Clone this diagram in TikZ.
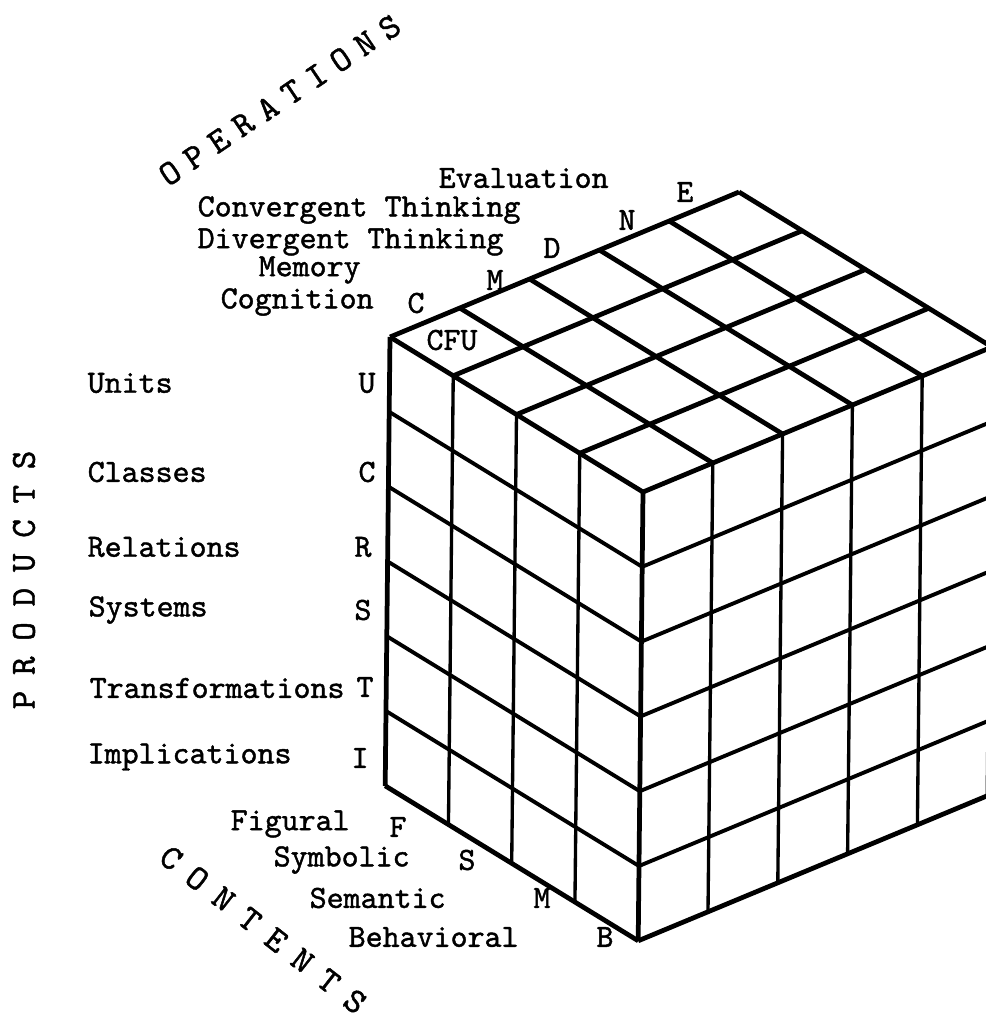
\documentclass[tikz,border=0pt]{standalone}
\usepackage{fontspec}
\newfontfamily\typew{lmmono10-regular.otf}[FakeBold=1.3]

\tikzset{
  topline/.style={line width=1.35pt},
  faceline/.style={line width=1.1pt},
  vline/.style={line width=0.95pt},
  edgeline/.style={line width=1.35pt},
  label/.style={font=\typew\fontsize{9.2}{10}\selectfont, inner sep=0pt},
  axistitle/.style={font=\typew\fontsize{10}{11}\selectfont, inner sep=0pt}
}

\begin{document}
\begin{tikzpicture}[x=0.01cm, y=-0.01cm]
    \useasboundingbox (0,0) rectangle (986,1017);
    \clip (0,0) rectangle (986,1017);

    % 顶面网格（内容 4 格 × 操作 5 格）
    \foreach \i in {0,...,4}
        \draw[topline] ({390+63.25*\i},{337+38.75*\i}) -- ++(349,-145);
    \foreach \j in {0,...,5}
        \draw[topline] ({390+69.8*\j},{337-29*\j}) -- ++(253,155);

    % 左侧面（内容 × 产品）
    \foreach \i in {1,...,3}
        \draw[vline] ({390+63.25*\i},{337+38.75*\i}) -- ++(-4.8,449);
    \draw[edgeline] (390,337) -- ++(-4.8,449);
    \draw[edgeline] (643,492) -- ++(-4.8,449);
    \foreach \k in {1,...,5}
        \draw[faceline] ({390-0.8*\k},{337+74.8*\k}) -- ++(253,155);
    \draw[edgeline] (385.2,785.8) -- ++(253,155);

    % 右侧面（操作 × 产品）
    \foreach \j in {1,...,5}
        \draw[vline] ({643+69.8*\j},{492-29*\j}) -- ++(-4.8,449);
    \foreach \k in {1,...,5}
        \draw[faceline] ({643-0.8*\k},{492+74.8*\k}) -- ++(349,-145);
    \draw[edgeline] (638.2,940.8) -- ++(349,-145);

    % 操作
    \node[label, anchor=west] (evaluation) at (438,178) {Evaluation};
    \node[label, anchor=west] (convergent) at (197,210) {Convergent Thinking};
    \node[label, anchor=west] (divergent) at (197,242) {Divergent Thinking};
    \node[label, anchor=west] (memory) at (258,270) {Memory};
    \node[label, anchor=west] (cognition) at (220,302) {Cognition};
    \node[label] (opC) at (416,303) {C};
    \node[label] (opM) at (495,280) {M};
    \node[label] (opD) at (552,248) {D};
    \node[label] (opN) at (627,220) {N};
    \node[label] (opE) at (685,192) {E};
    \node[label] (cfu) at (452,340) {CFU};

    % 产品
    \node[label, anchor=west] (units) at (87,383) {Units};
    \node[label, anchor=west] (classes) at (87,472) {Classes};
    \node[label, anchor=west] (relations) at (87,547) {Relations};
    \node[label, anchor=west] (systems) at (88,610) {Systems};
    \node[label, anchor=west] (transformations) at (89,688) {Transformations};
    \node[label, anchor=west] (implications) at (87,757) {Implications};
    \node[label] (prU) at (367,383) {U};
    \node[label] (prC) at (367,472) {C};
    \node[label] (prR) at (363,547) {R};
    \node[label] (prS) at (363,610) {S};
    \node[label] (prT) at (365,687) {T};
    \node[label] (prI) at (360,758) {I};

    % 内容
    \node[label, anchor=west] (figural) at (230,824) {Figural};
    \node[label, anchor=west] (symbolic) at (273,860) {Symbolic};
    \node[label, anchor=west] (semantic) at (309,898) {Semantic};
    \node[label, anchor=west] (behavioral) at (348,937) {Behavioral};
    \node[label] (ctF) at (398,827) {F};
    \node[label] (ctS) at (467,860) {S};
    \node[label] (ctM) at (542,898) {M};
    \node[label] (ctB) at (605,937) {B};

    % 三个维度的标题
    \foreach \c [count=\n] in {O,P,E,R,A,T,I,O,N,S}
        \node[axistitle, rotate=34] (ops\n) at ({170+24.4*(\n-1)},{173-16.2*(\n-1)}) {\c};
    \foreach \c [count=\n] in {P,R,O,D,U,C,T,S}
        \node[axistitle, rotate=90] (prod\n) at (24,{700-34.3*(\n-1)}) {\c};
    \foreach \c [count=\n] in {C,O,N,T,E,N,T,S}
        \node[axistitle, rotate=-38] (cont\n) at ({171+26.3*(\n-1)},{858+20.5*(\n-1)}) {\c};
\end{tikzpicture}
\end{document}
